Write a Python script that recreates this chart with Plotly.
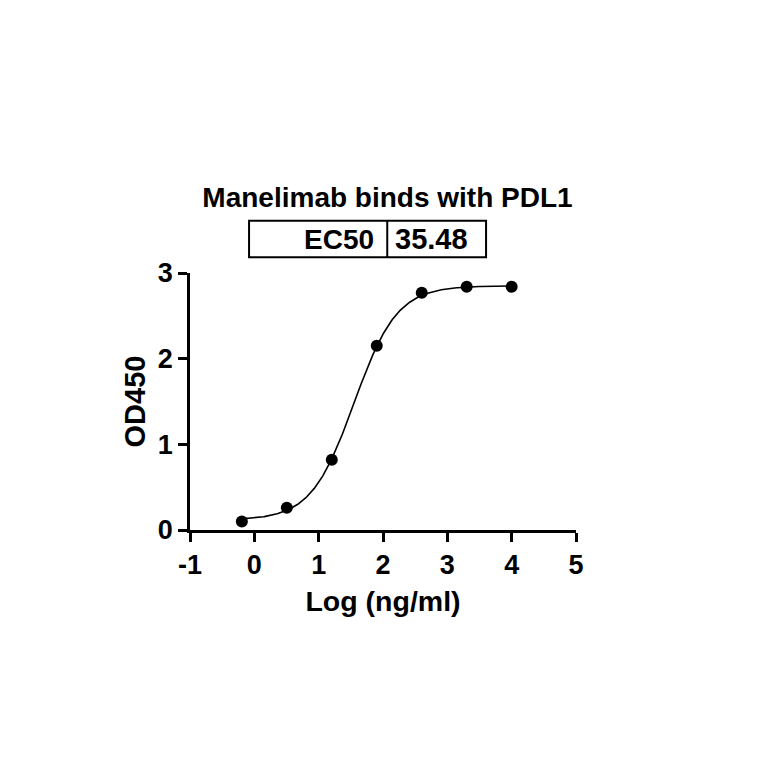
import numpy as np
import plotly.graph_objects as go

# Data
log_conc = [-0.194, 0.505, 1.204, 1.903, 2.602, 3.301, 4.0]
od450 = [0.10, 0.26, 0.82, 2.15, 2.77, 2.84, 2.84]

# Fitted 4PL parameters (from chart)
ec50 = 35.48
fit_bottom = 0.115
fit_top = 2.85
fit_hill = 1.3

x_ticks = [-1, 0, 1, 2, 3, 4, 5]
y_ticks = [0, 1, 2, 3]

title_text = "Manelimab binds with PDL1"
table_label = "EC50"
table_value = "35.48"

FONT = "Liberation Sans, Arial, sans-serif"

xc = np.linspace(min(log_conc), max(log_conc), 300)
yc = fit_bottom + (fit_top - fit_bottom) / (1 + 10 ** ((np.log10(ec50) - xc) * fit_hill))

fig = go.Figure()
fig.add_trace(go.Scatter(x=xc, y=yc, mode="lines", line=dict(color="black", width=1.6),
                         hoverinfo="skip", showlegend=False))
fig.add_trace(go.Scatter(x=log_conc, y=od450, mode="markers",
                         marker=dict(color="black", size=12), showlegend=False))

# page body has an 8px margin; compensate so the plot lands at 190..576 x 273..530
OFF = 8
L, R, T, B = 190 - OFF, 188 + OFF, 273 - OFF, 234 + OFF
fig.update_layout(
    width=764, height=764,
    margin=dict(l=L, r=R, t=T, b=B),
    paper_bgcolor="white", plot_bgcolor="white",
    font=dict(family=FONT, color="black"),
    title=dict(text=title_text, font=dict(size=28, weight="bold", family=FONT, color="black"),
               x=(387.5 - OFF) / 764, xref="container", xanchor="center",
               y=1 - (197.5 - OFF) / 764, yref="container", yanchor="middle"),
    xaxis=dict(range=[-1, 5], tickvals=x_ticks, ticktext=[str(v) for v in x_ticks],
               showgrid=False, zeroline=False, showline=True, linecolor="black", linewidth=2.5,
               ticks="outside", ticklen=9, tickwidth=2.5, tickcolor="black",
               tickfont=dict(size=27, weight="bold", family=FONT, color="black"),
               title=dict(text="Log (ng/ml)", font=dict(size=28.5, weight="bold", family=FONT, color="black"),
                          standoff=12)),
    yaxis=dict(range=[0, 3], tickvals=y_ticks, ticktext=[str(v) for v in y_ticks],
               showgrid=False, zeroline=False, showline=True, linecolor="black", linewidth=2.5,
               ticks="outside", ticklen=9, tickwidth=2.5, tickcolor="black",
               tickfont=dict(size=27, weight="bold", family=FONT, color="black"),
               title=dict(text="OD450", font=dict(size=29, weight="bold", family=FONT, color="black"),
                          standoff=4)),
)

# EC50 table box
x0, x1, xm = 0.153, 0.767, 0.511
y0, y1 = 1.061, 1.2035
fig.add_shape(type="rect", xref="paper", yref="paper", x0=x0, x1=x1, y0=y0, y1=y1,
              line=dict(color="black", width=2))
fig.add_shape(type="line", xref="paper", yref="paper", x0=xm, x1=xm, y0=y0, y1=y1,
              line=dict(color="black", width=2))
fig.add_annotation(text=table_label, xref="paper", yref="paper", x=0.482, y=(y0 + y1) / 2,
                   xanchor="right", yanchor="middle", showarrow=False,
                   font=dict(size=28, weight="bold", family=FONT, color="black"))
fig.add_annotation(text=table_value, xref="paper", yref="paper", x=0.625, y=(y0 + y1) / 2,
                   xanchor="center", yanchor="middle", showarrow=False,
                   font=dict(size=29, weight="bold", family=FONT, color="black"))

fig.write_html("out.html")
